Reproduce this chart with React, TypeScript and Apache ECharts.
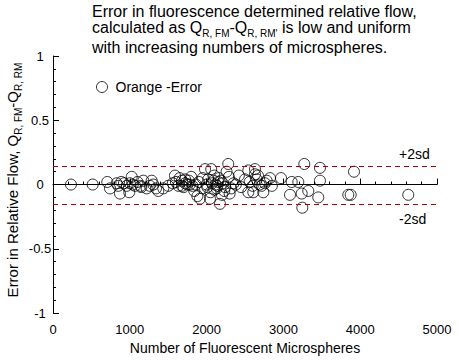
import React, { useEffect, useRef } from "react";
import * as echarts from "echarts";

const xValues = [
  234, 517, 707, 742, 829, 850, 872, 924, 960, 993, 1025, 1038, 1068, 1142, 1176, 1220,
  1285, 1306, 1341, 1371, 1436, 1501, 1560, 1588, 1601, 1632, 1650, 1680, 1700, 1720,
  1750, 1770, 1800, 1815, 1840, 1860, 1880, 1900, 1914, 1950, 1979, 2000, 2020, 2044,
  2060, 2070, 2090, 2100, 2115, 2130, 2150, 2174, 2185, 2200, 2230, 2260, 2282, 2290,
  2300, 2320, 2350, 2380, 2420, 2450, 2500, 2543, 2543, 2560, 2600, 2608, 2630, 2630,
  2652, 2669, 2690, 2717, 2738, 2760, 2782, 2825, 2850, 2969, 3086, 3108, 3194, 3238,
  3246, 3272, 3324, 3454, 3476, 3476, 3845, 3876, 3919, 4626, 890, 1000, 1100, 1150,
  1260, 1680, 1720, 1780, 2010, 2050, 2140, 2160, 2210, 2240, 2100, 1950,
];
const yValues = [
  0.0, 0.0, 0.02, -0.03, 0.01, -0.01, -0.07, 0.01, -0.01, -0.06, 0.06, 0.0, -0.01, -0.01, 0.03, -0.03,
  0.03, 0.0, -0.03, -0.05, -0.03, -0.01, 0.01, 0.07, 0.02, -0.01, 0.05, 0.03, -0.02, 0.01,
  0.0, 0.03, 0.06, -0.01, -0.05, 0.0, -0.09, 0.02, -0.11, 0.05, 0.12, 0.0, 0.04, -0.11,
  0.12, 0.01, 0.03, -0.04, 0.0, -0.03, 0.02, -0.15, 0.03, -0.08, -0.05, 0.1, 0.16, 0.06,
  -0.07, -0.03, 0.01, 0.0, 0.07, -0.02, 0.04, 0.11, -0.06, 0.02, -0.01, -0.06, 0.12, 0.08,
  0.04, 0.07, 0.0, -0.01, -0.06, 0.01, 0.03, 0.05, -0.01, 0.05, -0.08, 0.02, 0.02, -0.07,
  -0.18, 0.16, -0.05, -0.1, 0.13, 0.03, -0.08, -0.08, 0.1, -0.08, 0.02, 0.01, 0.02, -0.02,
  -0.01, -0.01, 0.04, 0.0, -0.02, -0.06, -0.01, 0.05, 0.01, -0.02, 0.07, -0.03,
];
const meanLine = 0;
const plusTwoSd = 0.142;
const minusTwoSd = -0.148;
const seriesName = "Orange -Error";
const xTicks = { min: 0, max: 5000, interval: 1000 };
const yTicks = { min: -1, max: 1, interval: 0.5 };

const FONT = "'Liberation Sans', Arial, Helvetica, sans-serif";
const DARK_RED = "#b00000";

export default function App() {
  const ref = useRef<HTMLDivElement>(null);
  useEffect(() => {
    if (!ref.current) return;
    const chart = echarts.init(ref.current, null, { renderer: "svg" });
    const data = xValues.map((x, i) => [x, yValues[i]]);
    const mainRich = {
      m: { fontSize: 16, lineHeight: 19, fontFamily: FONT, color: "#000" },
      s: { fontSize: 10, lineHeight: 10, padding: [13, 0, 0, 0], fontFamily: FONT, color: "#000" },
    };
    const yRich = {
      m: { fontSize: 15, lineHeight: 18, fontFamily: FONT, color: "#000" },
      s: { fontSize: 10, lineHeight: 10, padding: [12, 0, 0, 0], fontFamily: FONT, color: "#000" },
    };
    const circleStyle = { color: "rgba(0,0,0,0)", borderColor: "#000", borderWidth: 1 };
    chart.setOption({
      animation: false,
      backgroundColor: "#fff",
      textStyle: { fontFamily: FONT },
      grid: { left: 53, right: 22, top: 56, bottom: 44, containLabel: false },
      legend: {
        show: true,
        left: 91,
        top: 75,
        itemWidth: 11,
        itemHeight: 11,
        data: [{ name: seriesName, icon: "circle", itemStyle: circleStyle }],
        textStyle: { fontSize: 14, color: "#000", fontFamily: FONT, padding: [0, 0, 0, 3] },
      },
      xAxis: {
        type: "value",
        min: xTicks.min,
        max: xTicks.max,
        interval: xTicks.interval,
        name: "Number of Fluorescent Microspheres",
        nameLocation: "middle",
        nameGap: 23,
        nameTextStyle: { fontSize: 14, color: "#000", fontFamily: FONT },
        axisLine: { lineStyle: { color: "#000", width: 1 } },
        axisTick: { inside: true, length: 6, lineStyle: { color: "#000" } },
        minorTick: { show: true, splitNumber: 5, length: 3, lineStyle: { color: "#000" } },
        axisLabel: {
          fontSize: 13,
          color: "#000",
          margin: 10,
          fontFamily: FONT,
          formatter: (v: number) => String(v),
        },
        splitLine: { show: false },
      },
      yAxis: {
        type: "value",
        min: yTicks.min,
        max: yTicks.max,
        interval: yTicks.interval,
        axisLine: { lineStyle: { color: "#000", width: 1 } },
        axisTick: { inside: true, length: 6, lineStyle: { color: "#000" } },
        minorTick: { show: true, splitNumber: 5, length: 3, lineStyle: { color: "#000" } },
        axisLabel: {
          fontSize: 13,
          color: "#000",
          margin: 13,
          align: "center",
          fontFamily: FONT,
          formatter: (v: number) => String(v),
        },
        splitLine: { show: false },
      },
      series: [
        {
          name: seriesName,
          type: "scatter",
          symbol: "circle",
          symbolSize: 11,
          data,
          itemStyle: circleStyle,
          markLine: {
            silent: true,
            symbol: "none",
            label: { show: false },
            data: [
              { yAxis: meanLine, lineStyle: { color: "#000", type: "solid", width: 1 } },
              { yAxis: plusTwoSd, lineStyle: { color: DARK_RED, type: [5, 4], width: 1 } },
              { yAxis: minusTwoSd, lineStyle: { color: DARK_RED, type: [5, 4], width: 1 } },
            ],
          },
        },
      ],
      graphic: [
        {
          type: "text",
          x: 92,
          y: 11.5,
          style: {
            text: "Error in fluorescence determined relative flow,",
            font: `16px ${FONT}`,
            fill: "#000",
            textVerticalAlign: "middle",
          },
        },
        {
          type: "text",
          x: 92,
          y: 17.5,
          style: {
            text: "{m|calculated as Q}{s|R, FM}{m|-Q}{s|R, RM'}{m| is low and uniform}",
            rich: mainRich,
            fill: "#000",
            textVerticalAlign: "top",
          },
        },
        {
          type: "text",
          x: 92,
          y: 47.5,
          style: {
            text: "with increasing numbers of microspheres.",
            font: `16px ${FONT}`,
            fill: "#000",
            textVerticalAlign: "middle",
          },
        },
        {
          type: "text",
          x: 12.5,
          y: 180,
          rotation: Math.PI / 2,
          style: {
            text: "{m|Error in Relative Flow, Q}{s|R, FM}{m|-Q}{s|R, RM}",
            rich: yRich,
            fill: "#000",
            textAlign: "center",
            textVerticalAlign: "middle",
          },
        },
        {
          type: "text",
          x: 399,
          y: 154,
          style: { text: "+2sd", font: `14px ${FONT}`, fill: "#000", textVerticalAlign: "middle" },
        },
        {
          type: "text",
          x: 399,
          y: 219,
          style: { text: "-2sd", font: `14px ${FONT}`, fill: "#000", textVerticalAlign: "middle" },
        },
      ],
    });
    return () => chart.dispose();
  }, []);
  return <div ref={ref} style={{ width: 459, height: 360, position: "absolute", left: 0, top: 0 }} />;
}
